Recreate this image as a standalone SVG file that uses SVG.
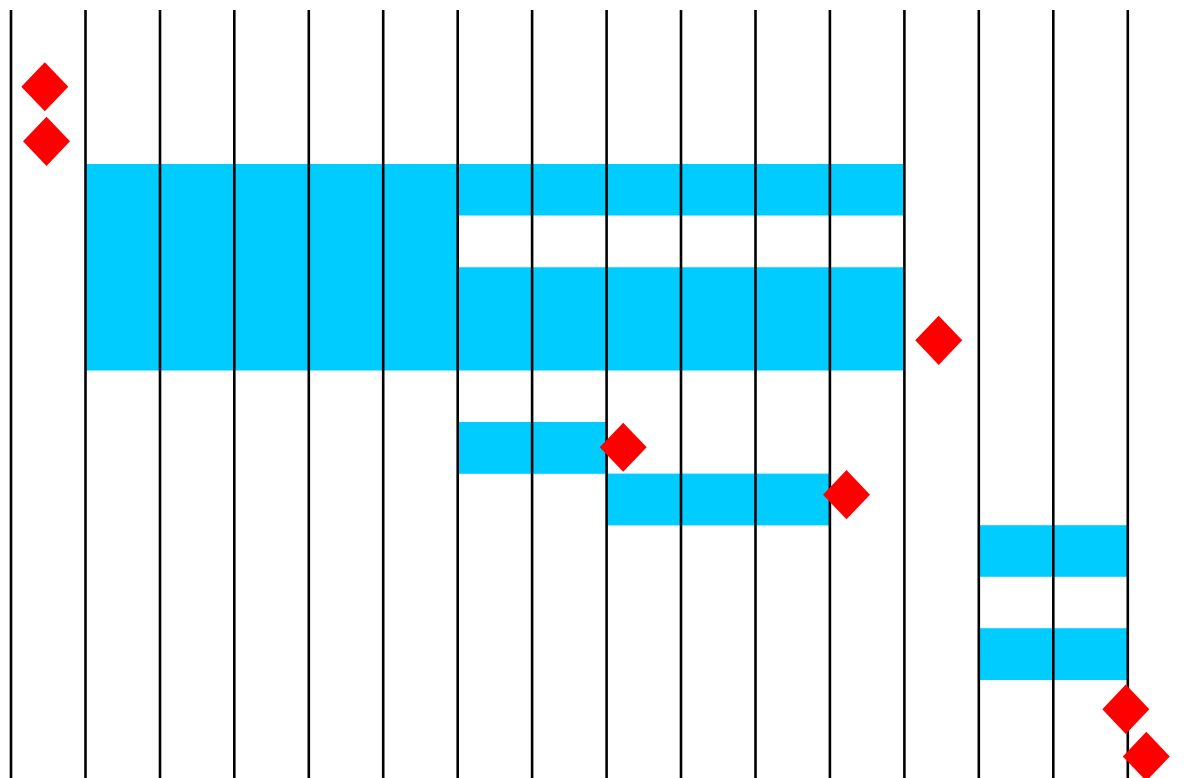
<svg xmlns="http://www.w3.org/2000/svg" width="1187" height="778" viewBox="0 0 1187 778">
<style>
.bar{fill:#00CCFF}
.grid{stroke:#000;stroke-width:2.6}
.ms{fill:#FF0000}
</style>
<rect width="1187" height="778" fill="#fff"/>
<g id="bars">
<path id="bar-block" class="bar" d="M86,164 H904 V215.6 H458 V267.2 H904 V370.6 H86 Z"/>
<rect class="bar" x="458" y="422" width="148" height="51.8"/>
<rect class="bar" x="606" y="473.6" width="224" height="51.8"/>
<rect class="bar" x="978.5" y="525.2" width="149.5" height="51.6"/>
<rect class="bar" x="978.5" y="628.2" width="149.5" height="51.8"/>
</g>
<g id="grid">
<line class="grid" x1="11" y1="10" x2="11" y2="778"/>
<line class="grid" x1="85.5" y1="10" x2="85.5" y2="778"/>
<line class="grid" x1="160" y1="10" x2="160" y2="778"/>
<line class="grid" x1="234.3" y1="10" x2="234.3" y2="778"/>
<line class="grid" x1="308.8" y1="10" x2="308.8" y2="778"/>
<line class="grid" x1="383.2" y1="10" x2="383.2" y2="778"/>
<line class="grid" x1="457.7" y1="10" x2="457.7" y2="778"/>
<line class="grid" x1="532.1" y1="10" x2="532.1" y2="778"/>
<line class="grid" x1="606.6" y1="10" x2="606.6" y2="778"/>
<line class="grid" x1="681" y1="10" x2="681" y2="778"/>
<line class="grid" x1="755.5" y1="10" x2="755.5" y2="778"/>
<line class="grid" x1="829.9" y1="10" x2="829.9" y2="778"/>
<line class="grid" x1="904.4" y1="10" x2="904.4" y2="778"/>
<line class="grid" x1="978.8" y1="10" x2="978.8" y2="778"/>
<line class="grid" x1="1053.3" y1="10" x2="1053.3" y2="778"/>
<line class="grid" x1="1127.8" y1="10" x2="1127.8" y2="778"/>
</g>
<g id="milestones">
<polygon id="m1" class="ms" points="44.8,62.3 68.3,86.8 44.8,111.3 21.3,86.8"/>
<polygon id="m2" class="ms" points="46.5,116.7 70,141.3 46.5,166 23,141.3"/>
<polygon id="m3" class="ms" points="938.7,315.7 962.2,340.3 938.7,365 915.2,340.3"/>
<polygon id="m4" class="ms" points="623.2,422.7 646.7,447.2 623.2,471.7 599.7,447.2"/>
<polygon id="m5" class="ms" points="846.5,470 870,494.7 846.5,519.3 823,494.7"/>
<polygon id="m6" class="ms" points="1125.8,684.5 1149.3,709.2 1125.8,734 1102.3,709.2"/>
<polygon id="m7" class="ms" points="1146.3,731.8 1169.8,756.5 1146.3,781 1122.8,756.5"/>
</g>
</svg>
